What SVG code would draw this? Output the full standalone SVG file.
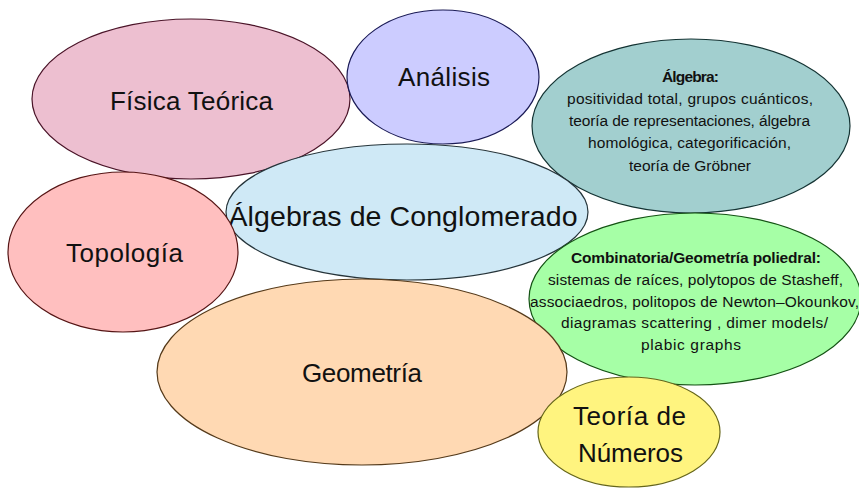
<svg xmlns="http://www.w3.org/2000/svg" width="859" height="490" viewBox="0 0 859 490">
<style>
  .big { font-family: "Liberation Sans", Arial, sans-serif; font-size: 26px; fill: #111; text-anchor: middle; }
  .sm { font-family: "Liberation Sans", Arial, sans-serif; font-size: 15.5px; fill: #111; text-anchor: middle; }
  .b { font-weight: bold; }
  ellipse { stroke-width: 1.2; }
</style>
<rect width="859" height="490" fill="#ffffff"/>
<g id="fisica">
  <ellipse cx="191" cy="99" rx="159" ry="80" fill="#EDBFD0" stroke="#4a1428"/>
  <text class="big" x="191.5" y="110" textLength="163">Física Teórica</text>
</g>
<g id="analisis">
  <ellipse cx="443" cy="77" rx="96" ry="67" fill="#CCCCFF" stroke="#1a1a55"/>
  <text class="big" x="444" y="86" textLength="92">Análisis</text>
</g>
<g id="algebra">
  <ellipse cx="691" cy="126" rx="159" ry="87" fill="#A2CFCF" stroke="#143333"/>
  <text class="sm b" x="690.5" y="82" textLength="57">Álgebra:</text>
  <text class="sm" x="690" y="104" textLength="246">positividad total, grupos cuánticos,</text>
  <text class="sm" x="689.5" y="126" textLength="241">teoría de representaciones, álgebra</text>
  <text class="sm" x="689.5" y="148" textLength="203">homológica, categorificación,</text>
  <text class="sm" x="690" y="171" textLength="122">teoría de Gröbner</text>
</g>
<g id="conglomerado">
  <ellipse cx="407" cy="212" rx="181" ry="68" fill="#CFE9F6" stroke="#25343a"/>
  <text class="big" x="403" y="226" textLength="349" style="font-size:28.5px">Álgebras de Conglomerado</text>
</g>
<g id="topologia">
  <ellipse cx="123" cy="252" rx="115" ry="80" fill="#FFBFBF" stroke="#551515"/>
  <text class="big" x="124.5" y="262" textLength="117">Topología</text>
</g>
<g id="combinatoria">
  <ellipse cx="695" cy="299" rx="166" ry="86" fill="#A6FFA6" stroke="#145214"/>
  <text class="sm b" x="696" y="263" textLength="250">Combinatoria/Geometría poliedral:</text>
  <text class="sm" x="695.5" y="285" textLength="295">sistemas de raíces, polytopos de Stasheff,</text>
  <text class="sm" x="694.5" y="307" textLength="329">associaedros, politopos de Newton–Okounkov,</text>
  <text class="sm" x="694.5" y="328" textLength="267">diagramas scattering , dimer models/</text>
  <text class="sm" x="691" y="350" textLength="100">plabic graphs</text>
</g>
<g id="geometria">
  <ellipse cx="362" cy="372" rx="205" ry="93" fill="#FFD9B3" stroke="#553a1a"/>
  <text class="big" x="362" y="382" textLength="120">Geometría</text>
</g>
<g id="numeros">
  <ellipse cx="629" cy="432" rx="91" ry="55" fill="#FFF47F" stroke="#66661a"/>
  <text class="big" x="629.5" y="425" textLength="113">Teoría de</text>
  <text class="big" x="630.5" y="462" textLength="105">Números</text>
</g>
<g id="connectors"/>
</svg>
